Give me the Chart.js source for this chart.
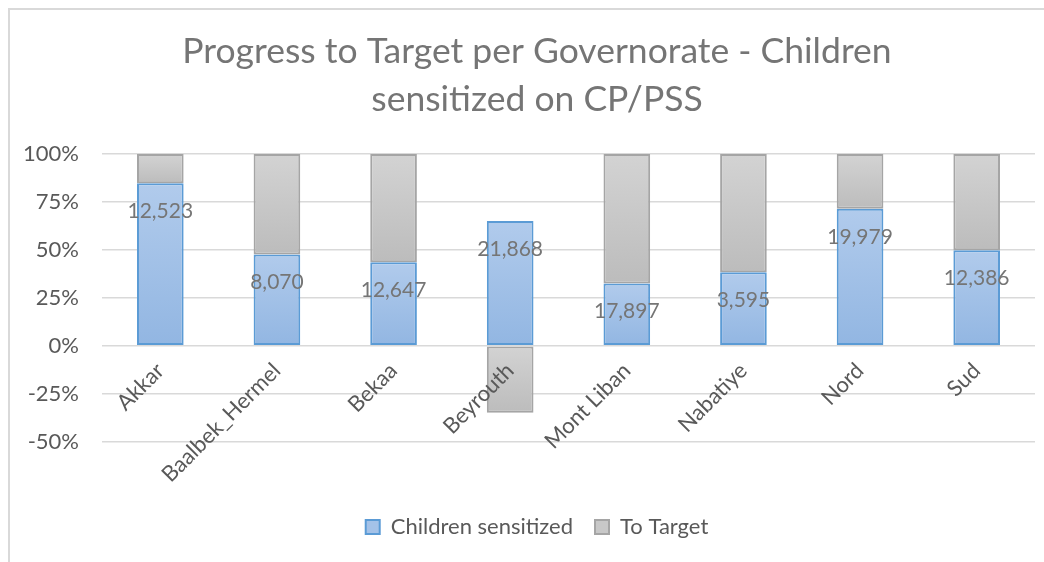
<!DOCTYPE html>
<html><head><meta charset="utf-8">
<script src="https://cdn.jsdelivr.net/npm/chart.js@4/dist/chart.umd.min.js"></script>
<style>
html,body{margin:0;padding:0;background:#fff;}
#wrap{position:relative;width:1044px;height:562px;overflow:hidden;}
#frame{position:absolute;left:8px;top:8px;right:0;bottom:0;border-top:2px solid #d9d9d9;border-left:2px solid #d9d9d9;pointer-events:none;}
canvas{position:absolute;left:0;top:0;}
</style></head><body>
<div id="wrap"><canvas id="c" width="1044" height="562"></canvas><div id="frame"></div></div>
<script>
const categories = ['Akkar','Baalbek_Hermel','Bekaa','Beyrouth','Mont Liban','Nabatiye','Nord','Sud'];
const childrenSensitizedPct = [84.7, 47.6, 43.5, 65.1, 32.5, 38.3, 71.4, 49.8];
const toTargetPct = [15.3, 52.4, 56.5, -34.9, 67.5, 61.7, 28.6, 50.2];
const childrenSensitizedCount = [12523, 8070, 12647, 21868, 17897, 3595, 19979, 12386];
const seriesNames = ['Children sensitized', 'To Target'];
const titleLines = ['Progress to Target per Governorate - Children', 'sensitized on CP/PSS'];

const FONT = 'Lato, "Open Sans", sans-serif';

function grad(ctx, top, bottom, c1, c2) {
  const chart = ctx.chart;
  const y = chart.scales && chart.scales.y;
  if (!y || !chart.chartArea) return c1;
  const y1 = y.getPixelForValue(top), y2 = y.getPixelForValue(bottom);
  if (!isFinite(y1) || !isFinite(y2) || y1 === y2) return c1;
  const g = chart.ctx.createLinearGradient(0, Math.min(y1, y2), 0, Math.max(y1, y2));
  g.addColorStop(0, c1); g.addColorStop(1, c2);
  return g;
}

const labelPlugin = {
  id: 'countLabels',
  afterLayout(chart) {
    // centre title and legend over the frame rather than the whole canvas
    if (chart.titleBlock) chart.titleBlock.left += 39;
    if (chart.legend) chart.legend.left += 39;
  },
  afterDatasetsDraw(chart) {
    const meta = chart.getDatasetMeta(0);
    const c = chart.ctx;
    c.save();
    c.font = '21px ' + FONT;
    c.fillStyle = '#757575';
    c.textAlign = 'center';
    c.textBaseline = 'middle';
    meta.data.forEach((el, i) => {
      c.fillText(childrenSensitizedCount[i].toLocaleString('en-US'), el.x, el.y + 28);
    });
    c.restore();
  }
};

new Chart(document.getElementById('c'), {
  type: 'bar',
  data: {
    labels: categories,
    datasets: [
      {
        label: seriesNames[0],
        data: childrenSensitizedPct,
        backgroundColor: (ctx) => grad(ctx, childrenSensitizedPct[ctx.dataIndex] || 0, 0, '#b1cbec', '#92b6e2'),
        borderColor: '#5b9bd5',
        borderWidth: 2,
        borderSkipped: false,
        barPercentage: 0.4,
        categoryPercentage: 1
      },
      {
        label: seriesNames[1],
        data: toTargetPct,
        backgroundColor: (ctx) => {
          const i = ctx.dataIndex; const v = toTargetPct[i] || 0;
          return v >= 0 ? grad(ctx, childrenSensitizedPct[i] + v, childrenSensitizedPct[i], '#d3d3d3', '#bcbcbc')
                        : grad(ctx, 0, v, '#d3d3d3', '#bcbcbc');
        },
        borderColor: '#a5a5a5',
        borderWidth: 2,
        borderSkipped: false,
        barPercentage: 0.4,
        categoryPercentage: 1
      }
    ]
  },
  options: {
    responsive: false,
    animation: false,
    devicePixelRatio: 1,
    layout: { padding: { left: 0, right: 9, top: 0, bottom: 14 } },
    plugins: {
      title: {
        display: true,
        text: titleLines,
        color: '#757575',
        font: { family: FONT, size: 35.5, weight: 'normal', lineHeight: '48px' },
        padding: { top: 28, bottom: 30 }
      },
      legend: {
        position: 'bottom',
        title: { display: true, text: ' ', font: { size: 12 }, padding: { top: 38, bottom: 0 } },
        labels: {
          color: '#595959',
          font: { family: FONT, size: 22 },
          boxWidth: 14, boxHeight: 14, padding: 22,
          generateLabels: () => [
            { text: seriesNames[0], fillStyle: '#a4c2e8', strokeStyle: '#5b9bd5', lineWidth: 2, datasetIndex: 0, fontColor: '#595959' },
            { text: seriesNames[1], fillStyle: '#c8c8c8', strokeStyle: '#a5a5a5', lineWidth: 2, datasetIndex: 1, fontColor: '#595959' }
          ]
        }
      },
      tooltip: { enabled: false }
    },
    scales: {
      x: {
        stacked: true,
        position: { y: 0 },
        grid: { display: false },
        border: { display: false },
        ticks: { z: 1, color: '#595959', font: { family: FONT, size: 22 }, minRotation: 45, maxRotation: 45, autoSkip: false, padding: 4 }
      },
      y: {
        stacked: true,
        min: -50, max: 100,
        afterFit(scale) { scale.width = 102; },
        grid: { color: '#d9d9d9', lineWidth: 1.5, drawTicks: false },
        border: { display: false },
        ticks: { stepSize: 25, color: '#595959', font: { family: FONT, size: 22 }, padding: 23, callback: (v) => v + '%' }
      }
    }
  },
  plugins: [labelPlugin]
});
</script>
</body></html>
